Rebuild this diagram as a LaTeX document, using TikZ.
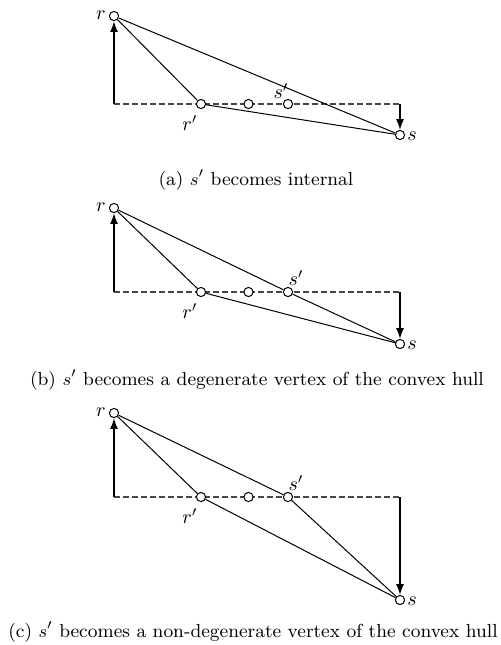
\documentclass[tikz,border=0pt]{standalone}
\usetikzlibrary{arrows.meta}
\begin{document}
\begin{tikzpicture}[x=0.5pt,y=-0.5pt,
  vtx/.style={circle,draw,fill=white,inner sep=0pt,minimum size=4.6pt,line width=0.5pt},
  edge/.style={line width=0.5pt},
  dline/.style={gray!55!black,line width=0.55pt,dash pattern=on 2.8pt off 1.7pt},
  mv/.style={line width=0.75pt,-{Latex[length=5.4pt,width=4pt]}},
  lbl/.style={inner sep=0pt,font=\normalsize},
  captxt/.style={inner sep=0pt,font=\fontsize{9.45}{11}\selectfont}]
\useasboundingbox (0,0) rectangle (501,645);
% ---------- panel (a)
\coordinate (a1) at (114,104);
\coordinate (a2) at (400,104);
\draw[dline] (a1) -- (a2);
\node[vtx] (ar) at (114,16) {};
\node[vtx] (arp) at (201,104) {};
\node[vtx] (am) at (248.5,104) {};
\node[vtx] (asp) at (288,104) {};
\node[vtx] (as) at (400,135) {};
\draw[edge] (ar) -- (arp);
\draw[edge] (arp) -- (as);
\draw[edge] (ar) -- (as);
\draw[mv] (a1) -- (ar);
\draw[mv] (a2) -- (as);
\node[lbl] (arl) at (101,15) {$r$};
\node[lbl] (arpl) at (190,123) {$r'$};
\node[lbl] (aspl) at (281,91) {$s'$};
\node[lbl] (asl) at (412,136) {$s$};
\node[captxt] (acap) at (256,180) {(a) $s'$ becomes internal};
% ---------- panel (b)
\coordinate (b1) at (114,292);
\coordinate (b2) at (400,292);
\draw[dline] (b1) -- (b2);
\node[vtx] (br) at (114,208) {};
\node[vtx] (brp) at (201,292) {};
\node[vtx] (bm) at (248.5,292) {};
\node[vtx] (bsp) at (288,292) {};
\node[vtx] (bs) at (400,344) {};
\draw[edge] (br) -- (brp);
\draw[edge] (brp) -- (bs);
\draw[edge] (br) -- (bsp);
\draw[edge] (bsp) -- (bs);
\draw[mv] (b1) -- (br);
\draw[mv] (b2) -- (bs);
\node[lbl] (brl) at (101,207) {$r$};
\node[lbl] (brpl) at (190,311) {$r'$};
\node[lbl] (bspl) at (296,278) {$s'$};
\node[lbl] (bsl) at (412,345) {$s$};
\node[captxt] (bcap) at (257,380) {(b) $s'$ becomes a degenerate vertex of the convex hull};
% ---------- panel (c)
\coordinate (c1) at (114,497);
\coordinate (c2) at (400,497);
\draw[dline] (c1) -- (c2);
\node[vtx] (cr) at (114,413) {};
\node[vtx] (crp) at (201,497) {};
\node[vtx] (cm) at (248.5,497) {};
\node[vtx] (csp) at (288,497) {};
\node[vtx] (cs) at (400,600) {};
\draw[edge] (cr) -- (crp);
\draw[edge] (crp) -- (cs);
\draw[edge] (cr) -- (csp);
\draw[edge] (csp) -- (cs);
\draw[mv] (c1) -- (cr);
\draw[mv] (c2) -- (cs);
\node[lbl] (crl) at (101,412) {$r$};
\node[lbl] (crpl) at (190,516) {$r'$};
\node[lbl] (cspl) at (296,483) {$s'$};
\node[lbl] (csl) at (412,601) {$s$};
\node[captxt] (ccap) at (253,632) {(c) $s'$ becomes a non-degenerate vertex of the convex hull};
\end{tikzpicture}
\end{document}
